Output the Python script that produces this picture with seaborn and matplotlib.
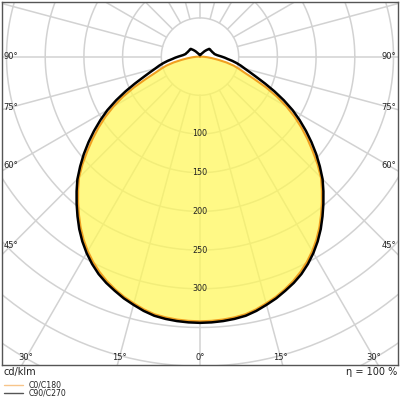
import matplotlib
matplotlib.use("Agg")
import matplotlib.pyplot as plt
from matplotlib.lines import Line2D
import numpy as np
import seaborn as sns

# luminous intensity in cd/klm over gamma (deg), 0 = straight down
# (the other half of each plane is the mirror image)
gamma = [0, 2.5, 5, 7.5, 10, 12.5, 15, 17.5, 20, 22.5, 25, 27.5, 30, 32.5,
         35, 37.5, 40, 42.5, 45, 47.5, 50, 52.5, 55, 57.5, 60, 62.5, 65,
         67.5, 70, 72.5, 75, 77.5, 80, 82.5, 85, 87.5, 90,
         95, 100, 105, 110, 115, 120, 125, 130, 135, 140, 145, 150, 155,
         160, 165, 170, 175, 180]
c0_c180 = [342, 341.7, 341, 339.8, 338, 334.5, 330, 325.5, 320, 314, 307,
           299, 290, 280, 269, 257, 245, 233, 221, 206, 190, 175, 160, 145,
           129, 112, 94, 76, 62, 53, 45, 35, 24, 16, 10, 5, 0,
           0, 0, 0, 0, 0, 0, 0, 0, 0, 0, 0, 0, 0, 0, 0, 0, 0, 0]
c90_c270 = [344, 343.7, 343, 341.8, 340, 336.5, 332, 327.5, 322, 316.5, 310,
            302, 293, 283, 272, 260, 248, 236, 224, 210, 196, 181.5, 167,
            152.5, 138, 122, 106, 91, 78, 68, 60, 54, 48, 42, 36, 32, 28,
            22, 19, 18, 17, 16.5, 16, 16, 15.5, 12, 9, 6, 4.5, 3.5, 3, 2.5,
            2.2, 2, 2]

grid_radii = np.arange(50, 501, 50)
radial_labels = [100, 150, 200, 250, 300]
bottom_angles = [0, 15, 30]
side_angles = [45, 60, 75, 90]
legend_labels = ['C0/C180', 'C90/C270']
unit_label = 'cd/klm'
efficiency_label = 'η = 100 %'


def to_xy(g, r):
    # mirror one half plane to get a closed curve, 0 deg pointing down
    g = np.radians(np.asarray(g, dtype=float))
    r = np.asarray(r, dtype=float)
    x = np.concatenate([-r[::-1] * np.sin(g[::-1]), r * np.sin(g)])
    y = np.concatenate([-r[::-1] * np.cos(g[::-1]), -r * np.cos(g)])
    return x, y


sns.set_style("white")
plt.rcParams['font.family'] = ['DejaVu Sans']

fig = plt.figure(figsize=(4, 4), dpi=100)
ax = fig.add_axes([0.005, 0.0875, 0.99, 0.9075])

px = 0.774  # pixels per cd/klm
xmax = 198 / px
ax.set_xlim(-xmax, xmax)
ax.set_ylim(-308.4 / px, 54.6 / px)
ax.set_xticks([])
ax.set_yticks([])
for sp in ax.spines.values():
    sp.set_color('#555555')
    sp.set_linewidth(1.0)

# polar grid
t = np.linspace(0, 2 * np.pi, 361)
for r in grid_radii:
    ax.plot(r * np.cos(t), r * np.sin(t), color='#d2d2d2', lw=1.1, zorder=1)
for a in np.radians(np.arange(0, 360, 15)):
    ax.plot([50 * np.sin(a), 700 * np.sin(a)], [50 * np.cos(a), 700 * np.cos(a)],
            color='#d2d2d2', lw=1.1, zorder=1)

# curves
x0, y0 = to_xy(gamma, c0_c180)
x90, y90 = to_xy(gamma, c90_c270)
ax.fill(x0, y0, color='#fff858', alpha=0.72, lw=0, zorder=2)
sns.lineplot(x=x0, y=y0, sort=False, estimator=None, color='#f0a020',
             lw=1.5, ax=ax, zorder=3)
sns.lineplot(x=x90, y=y90, sort=False, estimator=None, color='black',
             lw=1.8, ax=ax, zorder=4)
ax.set_xlabel('')
ax.set_ylabel('')

# radial value labels
for r in radial_labels:
    ax.text(0, -r, str(r), ha='center', va='center', fontsize=5.8,
            color='#222222', zorder=5)

# angle labels along the frame
yb = -308.4 / px + 7 / px
for a in bottom_angles:
    for s in ([1] if a == 0 else [-1, 1]):
        ax.text(s * (-yb) * np.tan(np.radians(a)), yb, f"{a}°", ha='center',
                va='center', fontsize=6, color='#222222', zorder=5)
xs = xmax - 9 / px
for a in side_angles:
    y = 0 if a == 90 else -xs / np.tan(np.radians(a))
    for s in (-1, 1):
        ax.text(s * xs, y, f"{a}°", ha='center', va='center', fontsize=6,
                color='#222222', zorder=5)

fig.text(4 / 400, 1 - 372 / 400, unit_label, fontsize=7, ha='left',
         va='center', color='#222222')
fig.text(397 / 400, 1 - 372 / 400, efficiency_label, fontsize=7, ha='right',
         va='center', color='#222222')

handles = [Line2D([], [], color='#f7c58a', lw=1.0),
           Line2D([], [], color='#555555', lw=1.0)]
fig.legend(handles, legend_labels, loc='upper left',
           bbox_to_anchor=(4 / 400, 1 - 380.5 / 400), frameon=False,
           fontsize=5.6, borderpad=0, borderaxespad=0, handlelength=2.5,
           handletextpad=0.65, labelspacing=-0.1, labelcolor='#222222')

fig.savefig('out.png', dpi=100)
